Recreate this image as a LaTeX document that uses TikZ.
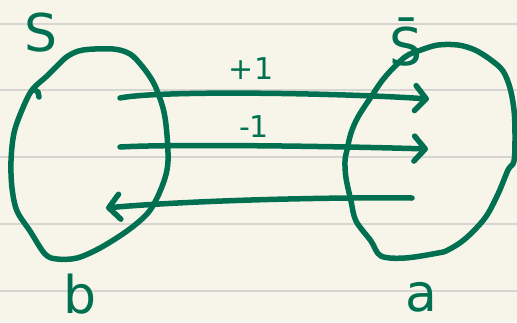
\documentclass[tikz,border=0pt]{standalone}
\usepackage{fontspec}
\setmainfont{DejaVu Sans}
\usetikzlibrary{arrows.meta}
\definecolor{paper}{HTML}{F7F5EA}
\definecolor{rule}{HTML}{D6D5D2}
\definecolor{ink}{HTML}{007050}
\tikzset{
  ruling/.style={draw=rule, line width=1.8pt},
  blob/.style={draw=ink, line width=5.5pt, line cap=round, line join=round},
  arr/.style={draw=ink, line width=5.5pt, line cap=round,
     -{Straight Barb[length=11pt,width=25pt,round]}},
  lbl/.style={text=ink, inner sep=0pt, font=\fontsize{52}{52}\selectfont},
  num/.style={text=ink, inner sep=0pt, font=\fontsize{30}{30}\selectfont},
}
\begin{document}
\begin{tikzpicture}[x=1pt,y=-1pt]
\useasboundingbox[fill=paper] (0,0) rectangle (517,322);
% notebook ruling
\foreach \yy in {24,90,157,224,291} \draw[ruling] (0,\yy) -- (517,\yy);
% left set
\draw[blob] plot[smooth cycle, tension=0.55] coordinates {
 (83,50) (113,49) (130,54) (142,66) (152,80) (158,93) (164,112) (167,135) (168,161)
 (165,178) (157,198) (147,214) (127,231) (100,248) (77,258) (57,259) (45,254)
 (30,231) (17,211) (12,188) (11,161) (14,133) (22,110) (32,90) (47,76) (58,65) (68,56)};
\draw[blob] (33,89) -- (38,92) -- (39,97);
% right set
\draw[blob] plot[smooth cycle, tension=0.55] coordinates {
 (421,50) (438,45) (458,45) (475,50) (491,60) (503,71) (510,88) (514,110) (515,135) (514,161)
 (508,170) (498,194) (485,218) (465,239) (448,250) (438,253) (405,258) (381,256)
 (371,241) (356,221) (351,201) (346,178) (345,161) (347,150) (351,133) (358,117)
 (371,97) (385,77) (405,57)};
% labels
\node[lbl] (S) at (41,33) {S};
\node[lbl] (Sb) at (406,42) {S̄};
\node[lbl] (b) at (80,294) {b};
\node[lbl] (a) at (421,297) {a};
% arrow end points
\coordinate (t1) at (120,98);  \coordinate (t2) at (429,99);
\coordinate (m1) at (120,147); \coordinate (m2) at (428,149);
\coordinate (b1) at (412,198); \coordinate (b2) at (106,208);
\draw[arr] (t1) .. controls (160,90) and (340,93) .. (t2);
\draw[arr] (m1) .. controls (170,144) and (330,146) .. (m2);
\draw[arr] (b1) .. controls (300,197) and (170,202) .. (b2);
\node[num] (p1) at (251,69) {+1};
\node[num] (n1) at (254,127) {-1};
\end{tikzpicture}
\end{document}
